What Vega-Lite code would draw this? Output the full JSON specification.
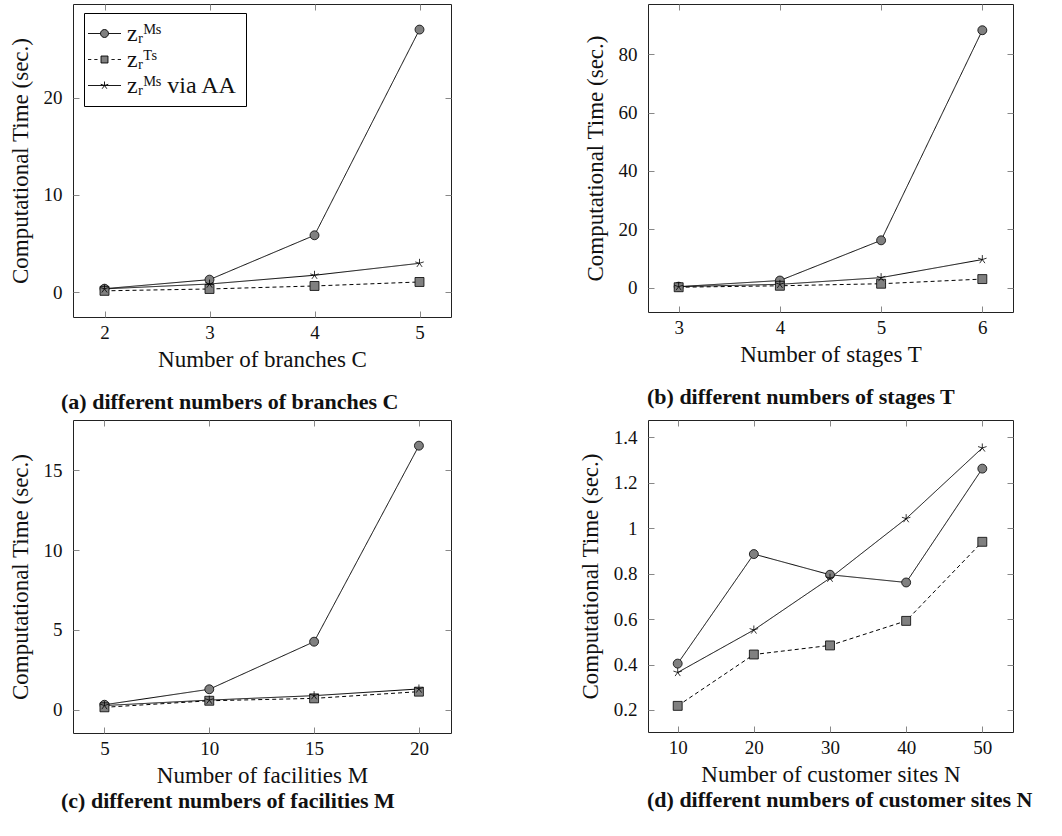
{
  "$schema": "https://vega.github.io/schema/vega-lite/v6.json",
  "padding": {"left": 8, "top": 3, "right": 0, "bottom": 0},
  "background": "white",
  "datasets": {
    "times": [
      {"panel": "a", "n": 2, "method": "MS", "time": 0.37},
      {"panel": "a", "n": 3, "method": "MS", "time": 1.3},
      {"panel": "a", "n": 4, "method": "MS", "time": 5.86},
      {"panel": "a", "n": 5, "method": "MS", "time": 27.0},
      {"panel": "a", "n": 2, "method": "TS", "time": 0.15},
      {"panel": "a", "n": 3, "method": "TS", "time": 0.34},
      {"panel": "a", "n": 4, "method": "TS", "time": 0.65},
      {"panel": "a", "n": 5, "method": "TS", "time": 1.06},
      {"panel": "a", "n": 2, "method": "AA", "time": 0.35},
      {"panel": "a", "n": 3, "method": "AA", "time": 0.85},
      {"panel": "a", "n": 4, "method": "AA", "time": 1.75},
      {"panel": "a", "n": 5, "method": "AA", "time": 2.98},
      {"panel": "b", "n": 3, "method": "MS", "time": 0.3},
      {"panel": "b", "n": 4, "method": "MS", "time": 2.4},
      {"panel": "b", "n": 5, "method": "MS", "time": 16.2},
      {"panel": "b", "n": 6, "method": "MS", "time": 88.3},
      {"panel": "b", "n": 3, "method": "TS", "time": 0.1},
      {"panel": "b", "n": 4, "method": "TS", "time": 0.6},
      {"panel": "b", "n": 5, "method": "TS", "time": 1.3},
      {"panel": "b", "n": 6, "method": "TS", "time": 2.9},
      {"panel": "b", "n": 3, "method": "AA", "time": 0.3},
      {"panel": "b", "n": 4, "method": "AA", "time": 1.1},
      {"panel": "b", "n": 5, "method": "AA", "time": 3.4},
      {"panel": "b", "n": 6, "method": "AA", "time": 9.6},
      {"panel": "c", "n": 5, "method": "MS", "time": 0.31},
      {"panel": "c", "n": 10, "method": "MS", "time": 1.28},
      {"panel": "c", "n": 15, "method": "MS", "time": 4.26},
      {"panel": "c", "n": 20, "method": "MS", "time": 16.54},
      {"panel": "c", "n": 5, "method": "TS", "time": 0.15},
      {"panel": "c", "n": 10, "method": "TS", "time": 0.56},
      {"panel": "c", "n": 15, "method": "TS", "time": 0.71},
      {"panel": "c", "n": 20, "method": "TS", "time": 1.13},
      {"panel": "c", "n": 5, "method": "AA", "time": 0.26},
      {"panel": "c", "n": 10, "method": "AA", "time": 0.6},
      {"panel": "c", "n": 15, "method": "AA", "time": 0.88},
      {"panel": "c", "n": 20, "method": "AA", "time": 1.3},
      {"panel": "d", "n": 10, "method": "MS", "time": 0.404},
      {"panel": "d", "n": 20, "method": "MS", "time": 0.886},
      {"panel": "d", "n": 30, "method": "MS", "time": 0.795},
      {"panel": "d", "n": 40, "method": "MS", "time": 0.761},
      {"panel": "d", "n": 50, "method": "MS", "time": 1.262},
      {"panel": "d", "n": 10, "method": "TS", "time": 0.218},
      {"panel": "d", "n": 20, "method": "TS", "time": 0.444},
      {"panel": "d", "n": 30, "method": "TS", "time": 0.484},
      {"panel": "d", "n": 40, "method": "TS", "time": 0.592},
      {"panel": "d", "n": 50, "method": "TS", "time": 0.94},
      {"panel": "d", "n": 10, "method": "AA", "time": 0.365},
      {"panel": "d", "n": 20, "method": "AA", "time": 0.552},
      {"panel": "d", "n": 30, "method": "AA", "time": 0.78},
      {"panel": "d", "n": 40, "method": "AA", "time": 1.042},
      {"panel": "d", "n": 50, "method": "AA", "time": 1.353}
    ]
  },
  "data": {"name": "times"},
  "columns": 2,
  "spacing": {"row": 103, "column": 197},
  "bounds": "flush",
  "align": "each",
  "concat": [
    {
      "width": 378, "height": 313,
      "title": {"text": "(a) different numbers of branches C", "orient": "bottom", "anchor": "start", "frame": "group", "dx": -12, "offset": 21},
      "transform": [{"filter": "datum.panel == 'a'"}],
      "resolve": {"scale": {"shape": "independent"}, "axis": {"x": "independent", "y": "independent"}},
      "layer": [
        {
          "mark": {"type": "line", "color": "black", "strokeWidth": 1},
          "encoding": {
            "x": {"field": "n", "type": "quantitative", "scale": {"domain": [1.7, 5.3], "nice": false, "zero": false}, "axis": {"values": [2, 3, 4, 5], "title": "Number of branches C"}},
            "y": {"field": "time", "type": "quantitative", "scale": {"domain": [-2.54, 29.63], "nice": false, "zero": false}, "axis": {"values": [0, 10, 20], "title": "Computational Time (sec.)"}},
            "strokeDash": {"field": "method", "type": "nominal", "scale": {"domain": ["MS", "TS", "AA"], "range": [[1, 0], [4, 3], [1, 0]]}, "legend": null}
          }
        },
        {
          "mark": {"type": "point", "filled": true, "fill": "#808080", "stroke": "black", "strokeWidth": 0.8, "size": 80, "opacity": 1},
          "encoding": {
            "x": {"field": "n", "type": "quantitative", "scale": {"domain": [1.7, 5.3], "nice": false, "zero": false}, "axis": {"orient": "top", "values": [2, 3, 4, 5], "labels": false, "title": null}},
            "y": {"field": "time", "type": "quantitative", "scale": {"domain": [-2.54, 29.63], "nice": false, "zero": false}, "axis": {"orient": "right", "values": [0, 10, 20], "labels": false, "title": null}},
            "shape": {"field": "method", "type": "nominal", "scale": {"domain": ["MS", "TS", "AA"], "range": ["circle", "square", "M0,0L0,-1M0,0L0.951,-0.309M0,0L0.588,0.809M0,0L-0.588,0.809M0,0L-0.951,-0.309"]}, "legend": null}
          }
        },
        {
          "mark": {"type": "point", "filled": true, "fill": "#808080", "stroke": "black", "strokeWidth": 0.8, "size": 576, "opacity": 0},
          "encoding": {
            "x": {"field": "n", "type": "quantitative", "scale": {"domain": [1.7, 5.3], "nice": false, "zero": false}, "axis": null},
            "y": {"field": "time", "type": "quantitative", "scale": {"domain": [-2.54, 29.63], "nice": false, "zero": false}, "axis": null},
            "shape": {
              "field": "method", "type": "nominal",
              "scale": {"domain": ["MS", "TS", "AA"], "range": [
                "M-1.375,0H-0.333M0.333,0H1.375M0.333,0A0.333,0.333,0,1,1,-0.333,0A0.333,0.333,0,1,1,0.333,0Z",
                "M-1.375,0H-1.1M-0.85,0H-0.58M-0.29,-0.29H0.29V0.29H-0.29ZM0.58,0H0.85M1.1,0H1.375",
                "M-1.375,0H1.375M0,0L0,-0.333M0,0L0.317,-0.103M0,0L0.196,0.27M0,0L-0.196,0.27M0,0L-0.317,-0.103"
              ]},
              "legend": {"orient": "none", "legendX": 11, "legendY": 9, "title": null,
                "labelExpr": "datum.value == 'MS' ? 'zᵣᴹˢ' : (datum.value == 'TS' ? 'zᵣᵀˢ' : 'zᵣᴹˢ via AA')",
                "symbolSize": 576, "symbolStrokeWidth": 0.9, "symbolOpacity": 1, "symbolFillColor": "#808080", "symbolStrokeColor": "black",
                "strokeColor": "black", "fillColor": "white", "padding": 8, "rowPadding": 1, "labelOffset": 10,
                "labelFont": "Liberation Serif", "labelFontSize": 24, "labelColor": "#111",
                "encoding": {"symbols": {"stroke": {"value": "black"}, "strokeWidth": {"value": 0.9}, "fill": {"value": "#808080"}, "opacity": {"value": 1}}}}
            }
          }
        }
      ]
    },
    {
      "width": 365, "height": 308,
      "title": {"text": "(b) different numbers of stages T", "orient": "bottom", "anchor": "start", "frame": "group", "dx": -1, "offset": 21},
      "transform": [{"filter": "datum.panel == 'b'"}],
      "resolve": {"axis": {"x": "independent", "y": "independent"}},
      "layer": [
        {
          "mark": {"type": "line", "color": "black", "strokeWidth": 1},
          "encoding": {
            "x": {"field": "n", "type": "quantitative", "scale": {"domain": [2.697, 6.303], "nice": false, "zero": false}, "axis": {"values": [3, 4, 5, 6], "title": "Number of stages T"}},
            "y": {"field": "time", "type": "quantitative", "scale": {"domain": [-8.4, 97.3], "nice": false, "zero": false}, "axis": {"values": [0, 20, 40, 60, 80], "title": "Computational Time (sec.)"}},
            "strokeDash": {"field": "method", "type": "nominal", "scale": {"domain": ["MS", "TS", "AA"], "range": [[1, 0], [4, 3], [1, 0]]}, "legend": null}
          }
        },
        {
          "mark": {"type": "point", "filled": true, "fill": "#808080", "stroke": "black", "strokeWidth": 0.8, "size": 80, "opacity": 1},
          "encoding": {
            "x": {"field": "n", "type": "quantitative", "scale": {"domain": [2.697, 6.303], "nice": false, "zero": false}, "axis": {"orient": "top", "values": [3, 4, 5, 6], "labels": false, "title": null}},
            "y": {"field": "time", "type": "quantitative", "scale": {"domain": [-8.4, 97.3], "nice": false, "zero": false}, "axis": {"orient": "right", "values": [0, 20, 40, 60, 80], "labels": false, "title": null}},
            "shape": {"field": "method", "type": "nominal", "scale": {"domain": ["MS", "TS", "AA"], "range": ["circle", "square", "M0,0L0,-1M0,0L0.951,-0.309M0,0L0.588,0.809M0,0L-0.588,0.809M0,0L-0.951,-0.309"]}, "legend": null}
          }
        }
      ]
    },
    {
      "width": 378, "height": 313,
      "title": {"text": "(c) different numbers of facilities M", "orient": "bottom", "anchor": "start", "frame": "group", "dx": -12, "offset": 4},
      "transform": [{"filter": "datum.panel == 'c'"}],
      "resolve": {"axis": {"x": "independent", "y": "independent"}},
      "layer": [
        {
          "mark": {"type": "line", "color": "black", "strokeWidth": 1},
          "encoding": {
            "x": {"field": "n", "type": "quantitative", "scale": {"domain": [3.5, 21.53], "nice": false, "zero": false}, "axis": {"values": [5, 10, 15, 20], "title": "Number of facilities M"}},
            "y": {"field": "time", "type": "quantitative", "scale": {"domain": [-1.46, 18.15], "nice": false, "zero": false}, "axis": {"values": [0, 5, 10, 15], "title": "Computational Time (sec.)"}},
            "strokeDash": {"field": "method", "type": "nominal", "scale": {"domain": ["MS", "TS", "AA"], "range": [[1, 0], [4, 3], [1, 0]]}, "legend": null}
          }
        },
        {
          "mark": {"type": "point", "filled": true, "fill": "#808080", "stroke": "black", "strokeWidth": 0.8, "size": 80, "opacity": 1},
          "encoding": {
            "x": {"field": "n", "type": "quantitative", "scale": {"domain": [3.5, 21.53], "nice": false, "zero": false}, "axis": {"orient": "top", "values": [5, 10, 15, 20], "labels": false, "title": null}},
            "y": {"field": "time", "type": "quantitative", "scale": {"domain": [-1.46, 18.15], "nice": false, "zero": false}, "axis": {"orient": "right", "values": [0, 5, 10, 15], "labels": false, "title": null}},
            "shape": {"field": "method", "type": "nominal", "scale": {"domain": ["MS", "TS", "AA"], "range": ["circle", "square", "M0,0L0,-1M0,0L0.951,-0.309M0,0L0.588,0.809M0,0L-0.588,0.809M0,0L-0.951,-0.309"]}, "legend": null}
          }
        }
      ]
    },
    {
      "width": 365, "height": 312,
      "title": {"text": "(d) different numbers of customer sites N", "orient": "bottom", "anchor": "start", "frame": "group", "dx": -1, "offset": 4},
      "transform": [{"filter": "datum.panel == 'd'"}],
      "resolve": {"axis": {"x": "independent", "y": "independent"}},
      "layer": [
        {
          "mark": {"type": "line", "color": "black", "strokeWidth": 1},
          "encoding": {
            "x": {"field": "n", "type": "quantitative", "scale": {"domain": [6.1, 54.03], "nice": false, "zero": false}, "axis": {"values": [10, 20, 30, 40, 50], "title": "Number of customer sites N"}},
            "y": {"field": "time", "type": "quantitative", "scale": {"domain": [0.103, 1.476], "nice": false, "zero": false}, "axis": {"values": [0.2, 0.4, 0.6, 0.8, 1, 1.2, 1.4], "format": "~g", "title": "Computational Time (sec.)"}},
            "strokeDash": {"field": "method", "type": "nominal", "scale": {"domain": ["MS", "TS", "AA"], "range": [[1, 0], [4, 3], [1, 0]]}, "legend": null}
          }
        },
        {
          "mark": {"type": "point", "filled": true, "fill": "#808080", "stroke": "black", "strokeWidth": 0.8, "size": 80, "opacity": 1},
          "encoding": {
            "x": {"field": "n", "type": "quantitative", "scale": {"domain": [6.1, 54.03], "nice": false, "zero": false}, "axis": {"orient": "top", "values": [10, 20, 30, 40, 50], "labels": false, "title": null}},
            "y": {"field": "time", "type": "quantitative", "scale": {"domain": [0.103, 1.476], "nice": false, "zero": false}, "axis": {"orient": "right", "values": [0.2, 0.4, 0.6, 0.8, 1, 1.2, 1.4], "labels": false, "title": null}},
            "shape": {"field": "method", "type": "nominal", "scale": {"domain": ["MS", "TS", "AA"], "range": ["circle", "square", "M0,0L0,-1M0,0L0.951,-0.309M0,0L0.588,0.809M0,0L-0.588,0.809M0,0L-0.951,-0.309"]}, "legend": null}
          }
        }
      ]
    }
  ],
  "config": {
    "view": {"stroke": "#222", "strokeWidth": 1},
    "title": {"font": "Liberation Serif", "fontSize": 22, "fontWeight": "bold", "color": "#111"},
    "axis": {
      "domain": false, "grid": false, "ticks": true, "tickSize": 6, "offset": -6, "tickColor": "#888", "tickWidth": 1,
      "labelPadding": 11, "labelFont": "Liberation Serif", "labelFontSize": 19, "labelColor": "#111", "labelFlush": false,
      "titleFont": "Liberation Serif", "titleFontSize": 23, "titleFontWeight": "normal", "titleColor": "#111", "titlePadding": 11
    },
    "axisX": {"labelPadding": 6, "titlePadding": 6}
  }
}
